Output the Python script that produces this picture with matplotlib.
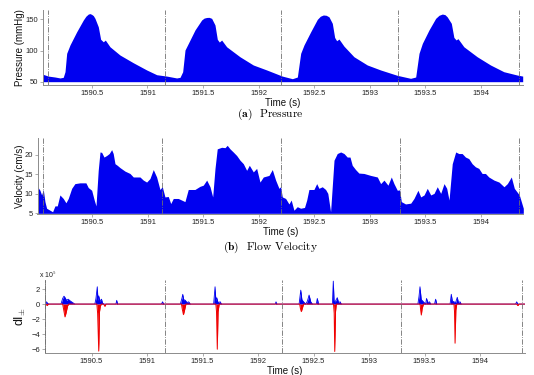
import numpy as np
import matplotlib
matplotlib.use('Agg')
import matplotlib.pyplot as plt
from matplotlib.ticker import FormatStrFormatter

# ---- pressure (mmHg) ----
t_p = [1590.056, 1590.106, 1590.167, 1590.212, 1590.241, 1590.257, 1590.272, 1590.302, 1590.362, 1590.422,
       1590.445, 1590.467, 1590.482, 1590.497, 1590.512, 1590.527, 1590.557, 1590.578, 1590.602, 1590.620,
       1590.662, 1590.752, 1590.872, 1590.993, 1591.083, 1591.173, 1591.263, 1591.293, 1591.317, 1591.338,
       1591.368, 1591.428, 1591.488, 1591.510, 1591.533, 1591.555, 1591.578, 1591.608, 1591.629, 1591.647,
       1591.668, 1591.713, 1591.833, 1591.953, 1592.074, 1592.214, 1592.305, 1592.350, 1592.380, 1592.410,
       1592.470, 1592.530, 1592.557, 1592.584, 1592.610, 1592.635, 1592.665, 1592.686, 1592.704, 1592.725,
       1592.770, 1592.860, 1592.980, 1593.100, 1593.250, 1593.370, 1593.416, 1593.446, 1593.476, 1593.536,
       1593.596, 1593.626, 1593.656, 1593.680, 1593.700, 1593.737, 1593.760, 1593.780, 1593.797, 1593.850,
       1593.970, 1594.090, 1594.210, 1594.330, 1594.380]
pressure = [62, 59, 57.5, 56, 57, 66, 95.5, 109, 130, 149,
            155, 158.5, 159.2, 158, 156, 151.6, 138, 118, 114, 116.8,
            106, 92.8, 80.4, 68.8, 61.2, 59, 56, 57, 66, 100.8,
            111.5, 133, 149, 152, 153, 153.2, 151.6, 141, 118, 113.6,
            116.8, 106, 90, 76.8, 68.8, 59, 54.8, 57.5, 95.5, 109,
            130, 150, 155, 157, 156.5, 154, 143.6, 121, 115.7, 118.4,
            107, 90, 76.8, 68.8, 60.2, 55.4, 57.5, 95.5, 111.5, 133,
            151.6, 156.5, 158.5, 157.5, 154, 143.6, 121, 117, 119, 106,
            90, 76.8, 66, 60.7, 59]
beats_p = [1590.10, 1591.16, 1592.20, 1593.26, 1594.35]

# ---- flow velocity (cm/s) ----
t_v = [1590.006, 1590.027, 1590.042, 1590.057, 1590.072, 1590.087, 1590.117, 1590.141, 1590.162, 1590.183,
       1590.207, 1590.237, 1590.261, 1590.282, 1590.313, 1590.342, 1590.387, 1590.441, 1590.462, 1590.493,
       1590.516, 1590.532, 1590.552, 1590.568, 1590.583, 1590.604, 1590.628, 1590.651, 1590.673, 1590.687,
       1590.703, 1590.723, 1590.748, 1590.793, 1590.838, 1590.868, 1590.928, 1590.958, 1590.988, 1591.018,
       1591.048, 1591.078, 1591.108, 1591.129, 1591.153, 1591.183, 1591.205, 1591.228, 1591.273, 1591.318,
       1591.333, 1591.363, 1591.423, 1591.468, 1591.498, 1591.529, 1591.559, 1591.583, 1591.604, 1591.624,
       1591.664, 1591.694, 1591.714, 1591.739, 1591.768, 1591.799, 1591.829, 1591.859, 1591.889, 1591.913,
       1591.949, 1591.979, 1592.009, 1592.039, 1592.090, 1592.120, 1592.150, 1592.180, 1592.195, 1592.210,
       1592.240, 1592.270, 1592.290, 1592.315, 1592.345, 1592.375, 1592.410, 1592.430, 1592.450, 1592.495,
       1592.520, 1592.540, 1592.570, 1592.600, 1592.620, 1592.645, 1592.676, 1592.705, 1592.736, 1592.766,
       1592.795, 1592.820, 1592.840, 1592.870, 1592.900, 1592.946, 1593.006, 1593.066, 1593.096, 1593.126,
       1593.162, 1593.192, 1593.216, 1593.246, 1593.267, 1593.282, 1593.320, 1593.367, 1593.396, 1593.432,
       1593.457, 1593.487, 1593.516, 1593.547, 1593.577, 1593.606, 1593.637, 1593.667, 1593.691, 1593.712,
       1593.741, 1593.772, 1593.800, 1593.830, 1593.860, 1593.890, 1593.920, 1593.950, 1593.980, 1594.010,
       1594.040, 1594.070, 1594.117, 1594.162, 1594.207, 1594.237, 1594.273, 1594.300, 1594.345, 1594.381]
velocity = [11.8, 10.9, 9.7, 11.1, 8.0, 6.3, 5.8, 5.4, 6.9, 6.9,
            9.7, 8.8, 7.7, 8.8, 11.4, 12.6, 12.8, 12.8, 11.6, 10.9,
            8.4, 6.9, 16.0, 20.7, 20.6, 19.4, 19.8, 20.3, 21.3, 20.3,
            17.7, 17.3, 16.7, 15.8, 15.2, 14.3, 14.3, 13.5, 13.0, 13.9,
            16.2, 14.3, 11.1, 11.8, 9.2, 9.3, 7.5, 8.8, 8.8, 8.2,
            8.0, 11.1, 11.1, 11.9, 12.2, 13.5, 11.8, 9.2, 16.5, 21.5,
            21.9, 21.8, 22.4, 21.5, 20.7, 19.8, 18.6, 17.7, 16.0, 17.3,
            15.6, 16.5, 13.0, 14.3, 14.7, 16.2, 13.5, 11.4, 11.8, 9.2,
            8.8, 7.4, 8.4, 5.8, 6.7, 6.3, 6.5, 8.4, 11.1, 11.1,
            12.6, 11.4, 11.8, 11.1, 10.1, 5.4, 18.6, 20.3, 20.7, 20.3,
            19.4, 19.4, 17.3, 16.2, 15.3, 15.2, 14.7, 14.3, 12.6, 13.5,
            12.2, 14.3, 12.6, 10.9, 11.0, 8.0, 7.4, 7.6, 8.8, 10.9,
            9.2, 9.7, 11.4, 9.7, 10.1, 11.8, 10.1, 12.6, 11.4, 8.4,
            17.7, 20.7, 20.3, 20.3, 19.4, 19.0, 17.7, 16.9, 16.5, 15.2,
            15.2, 14.3, 13.5, 13.0, 11.8, 12.6, 14.3, 11.4, 9.7, 6.3]
beats_v = [1590.057, 1591.13, 1592.195, 1593.267, 1594.345]

# ---- wave intensity dI+ / dI- (x 10^5) ----
t_dip = [1590.081, 1590.095, 1590.104, 1590.115, 1590.225, 1590.240, 1590.252, 1590.262, 1590.275, 1590.290,
         1590.310, 1590.335, 1590.350, 1590.530, 1590.540, 1590.552, 1590.558, 1590.565, 1590.575, 1590.590,
         1590.600, 1590.615, 1590.720, 1590.727, 1590.735, 1591.130, 1591.140, 1591.150, 1591.300, 1591.315,
         1591.322, 1591.330, 1591.345, 1591.360, 1591.375, 1591.390, 1591.600, 1591.613, 1591.620, 1591.628,
         1591.640, 1591.660, 1591.670, 1592.155, 1592.162, 1592.170, 1592.370, 1592.385, 1592.395, 1592.410,
         1592.430, 1592.445, 1592.460, 1592.475, 1592.490, 1592.525, 1592.534, 1592.545, 1592.670, 1592.678,
         1592.685, 1592.695, 1592.705, 1592.714, 1592.725, 1592.740, 1592.750, 1593.440, 1593.450, 1593.459,
         1593.470, 1593.490, 1593.510, 1593.518, 1593.530, 1593.545, 1593.555, 1593.590, 1593.600, 1593.610,
         1593.730, 1593.741, 1593.750, 1593.765, 1593.780, 1593.795, 1593.805, 1593.820, 1593.830, 1594.320,
         1594.330, 1594.340, 1594.405]
dI_plus = [0, 0.3, 0.1, 0, 0, 0.75, 1.05, 0.85, 0.5, 0.65,
           0.4, 0.15, 0, 0, 0.75, 2.3, 0.5, 1.1, 0.4, 0.65,
           0.1, 0, 0, 0.5, 0, 0, 0.3, 0, 0, 0.8,
           1.3, 0.6, 0.5, 0.2, 0.3, 0, 0, 2.3, 0.5, 0.85,
           0.2, 0.3, 0, 0, 0.3, 0, 0, 1.85, 0.6, 0.3,
           0, 0.4, 1.2, 0.3, 0, 0, 0.75, 0, 0, 3.05,
           0.4, 0.3, 0.6, 0.85, 0.2, 0.3, 0, 0, 1.0, 2.3,
           0.6, 0.3, 0, 0.75, 0.2, 0.3, 0, 0, 0.65, 0,
           0, 1.3, 0.4, 0.3, 0.2, 0.9, 0.2, 0.3, 0, 0,
           0.3, 0, 0]
t_dim = [1590.081, 1590.090, 1590.100, 1590.110, 1590.240, 1590.250, 1590.261, 1590.270, 1590.285, 1590.295,
         1590.548, 1590.555, 1590.565, 1590.572, 1590.580, 1590.590, 1590.610, 1590.620, 1590.630, 1591.310,
         1591.318, 1591.328, 1591.338, 1591.350, 1591.620, 1591.626, 1591.633, 1591.640, 1591.650, 1592.375,
         1592.382, 1592.390, 1592.400, 1592.410, 1592.680, 1592.686, 1592.691, 1592.698, 1592.705, 1593.460,
         1593.465, 1593.471, 1593.478, 1593.490, 1593.765, 1593.770, 1593.775, 1593.782, 1593.790, 1594.330,
         1594.340, 1594.350, 1594.405]
dI_minus = [0, 0, -0.2, 0, 0, -0.8, -1.7, -1.2, -0.2, 0,
            0, -1.2, -6.25, -1.0, -0.2, 0, 0, -0.3, 0, 0,
            -0.7, -1.4, -0.8, 0, 0, -1.0, -6.0, -1.0, 0, 0,
            -0.6, -1.0, -0.5, 0, 0, -1.2, -6.3, -1.0, 0, 0,
            -0.8, -1.45, -0.6, 0, 0, -1.0, -5.2, -0.8, 0, 0,
            -0.2, 0, 0]
beats_di = [1590.085, 1591.16, 1592.22, 1593.29, 1594.38]

plt.rcParams['font.family'] = ['Liberation Sans', 'DejaVu Sans']
plt.rcParams['mathtext.fontset'] = 'cm'

BLUE = '#0000f0'
RED = '#f00000'
SPINE = '#8c8c8c'

fig = plt.figure(figsize=(5.34, 3.75), dpi=100)
W, H = 534.0, 375.0


def make_axes(left, right, top, bottom):
    ax = fig.add_axes([left / W, 1 - bottom / H, (right - left) / W, (bottom - top) / H])
    for s in ['top', 'right']:
        ax.spines[s].set_visible(False)
    for s in ['left', 'bottom']:
        ax.spines[s].set_color(SPINE)
        ax.spines[s].set_linewidth(0.7)
    ax.tick_params(labelsize=5.5, length=2, width=0.5, color=SPINE, labelcolor='#222222', pad=1.5)
    ax.set_xticks([1590.5, 1591, 1591.5, 1592, 1592.5, 1593, 1593.5, 1594])
    ax.xaxis.set_major_formatter(FormatStrFormatter('%g'))
    ax.set_xlabel('Time (s)', fontsize=7, labelpad=0.5, color='#111111')
    return ax


def beat_lines(ax, beats):
    for b in beats:
        ax.axvline(b, color='#707070', lw=0.6, ls='-.', zorder=3)


# (a) pressure
ax1 = make_axes(42.7, 522.7, 10, 85)
ax1.fill_between(t_p, 50, pressure, color=BLUE, lw=0)
ax1.set_xlim(1590.056, 1594.38)
ax1.set_ylim(44.7, 165)
ax1.set_yticks([50, 100, 150])
ax1.set_ylabel('Pressure (mmHg)', fontsize=7, color='#111111')
ax1.yaxis.set_label_coords(-0.036, 0.5)
beat_lines(ax1, beats_p)

# (b) velocity
ax2 = make_axes(37.5, 523.3, 138.3, 214.3)
ax2.fill_between(t_v, 5, velocity, color=BLUE, lw=0)
ax2.set_xlim(1590.005, 1594.381)
ax2.set_ylim(4.75, 24.2)
ax2.set_yticks([5, 10, 15, 20])
ax2.set_ylabel('Velocity (cm/s)', fontsize=7, color='#111111')
ax2.yaxis.set_label_coords(-0.025, 0.5)
beat_lines(ax2, beats_v)

# (c) wave intensity
ax3 = make_axes(45, 525, 280, 353)
ax3.fill_between(t_dip, 0, dI_plus, color=BLUE, lw=0)
ax3.plot(t_dip, dI_plus, color=BLUE, lw=0.6)
ax3.fill_between(t_dim, 0, dI_minus, color=RED, lw=0)
ax3.plot(t_dim, dI_minus, color=RED, lw=0.7)
ax3.set_xlim(1590.081, 1594.405)
ax3.set_ylim(-6.5, 3.2)
ax3.set_yticks([-6, -4, -2, 0, 2])
ax3.set_ylabel(r'dI$_{\pm}$', fontsize=9, color='#111111')
ax3.yaxis.set_label_coords(-0.036, 0.5)
ax3.text(-0.012, 1.0, r'x 10$^5$', transform=ax3.transAxes, fontsize=5,
         ha='left', va='bottom', color='#222222')
beat_lines(ax3, beats_di)

# captions
fig.text(270 / W, 1 - 114 / H, r'$\mathbf{(a)}$  Pressure', fontsize=8.3,
         family='cmr10', ha='center', va='center')
fig.text(271 / W, 1 - 247 / H, r'$\mathbf{(b)}$  Flow Velocity', fontsize=8.3,
         family='cmr10', ha='center', va='center')

fig.savefig('out.png', dpi=100)
